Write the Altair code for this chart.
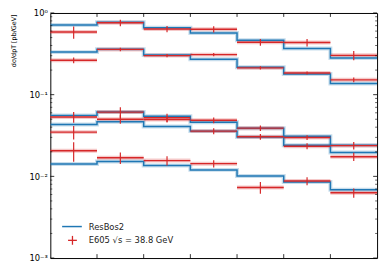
import altair as alt
import pandas as pd

# bin edges (pT, GeV) - 7 bins, no tick labels shown
edges = [0.0, 0.2, 0.4, 0.6, 0.8, 1.0, 1.2, 1.4]

# ResBos2 theory (blue steps), 5 mass bins
th_A = [0.711, 0.773, 0.660, 0.569, 0.464, 0.368, 0.281]
th_B = [0.332, 0.361, 0.306, 0.271, 0.217, 0.179, 0.137]
th_C = [0.0558, 0.0612, 0.0543, 0.0460, 0.0389, 0.0309, 0.0240]
th_D = [0.0431, 0.0466, 0.0408, 0.0358, 0.0303, 0.0240, 0.0196]
th_E = [0.0142, 0.0152, 0.0136, 0.0120, 0.0101, 0.00854, 0.00684]

# E605 data (red) and symmetric errors
dat_A = [0.585, 0.758, 0.636, 0.633, 0.439, 0.435, 0.303]
err_A = [0.10, 0.07, 0.055, 0.055, 0.042, 0.046, 0.040]
dat_B = [0.264, 0.358, 0.301, 0.309, 0.213, 0.184, 0.152]
err_B = [0.022, 0.018, 0.014, 0.014, 0.010, 0.008, 0.010]
dat_C = [0.0533, 0.0612, 0.0524, 0.0486, 0.0389, 0.0299, 0.0238]
err_C = [0.008, 0.009, 0.006, 0.004, 0.003, 0.002, 0.0025]
dat_D = [0.0348, 0.0500, 0.0496, 0.0358, 0.0305, 0.0234, 0.0174]
err_D = [0.0065, 0.006, 0.004, 0.003, 0.0025, 0.002, 0.002]
dat_E = [0.0206, 0.0169, 0.0156, 0.0143, 0.00731, 0.00878, 0.00629]
err_E = [0.0055, 0.0027, 0.002, 0.0015, 0.0012, 0.001, 0.0008]

legend_labels = ["ResBos2", "E605 √s = 38.8 GeV"]

y_major = [1e-3, 1e-2, 1e-1, 1.0]
y_minor = [k * 10.0 ** e for e in (-3, -2, -1) for k in range(2, 10)]
x_ticks = edges[1:-1]

BLUE = "#1f77b4"
RED = "#d62728"
W, H = 332, 249

theory = {"A": th_A, "B": th_B, "C": th_C, "D": th_D, "E": th_E}
data = {"A": (dat_A, err_A), "B": (dat_B, err_B), "C": (dat_C, err_C),
        "D": (dat_D, err_D), "E": (dat_E, err_E)}

step_rows = []
for s, vals in theory.items():
    for i, v in enumerate(vals):
        step_rows.append({"s": s, "x": edges[i], "y": v})
    step_rows.append({"s": s, "x": edges[-1], "y": vals[-1]})
step_df = pd.DataFrame(step_rows)

pt_rows = []
for s, (vals, errs) in data.items():
    for i, (v, e) in enumerate(zip(vals, errs)):
        pt_rows.append({"s": s, "lo": edges[i], "hi": edges[i + 1],
                        "c": (edges[i] + edges[i + 1]) / 2, "y": v,
                        "ylo": v - e, "yhi": v + e})
pt_df = pd.DataFrame(pt_rows)

xscale = alt.Scale(domain=[edges[0], edges[-1]], nice=False)
yscale = alt.Scale(type="log", domain=[1e-3, 1], nice=False, clamp=True)
label_expr = ("datum.value >= 0.99 ? '10⁰' : datum.value >= 0.099 ? '10⁻¹' : "
              "datum.value >= 0.0099 ? '10⁻²' : '10⁻³'")
yaxis = alt.Axis(values=y_major, labelExpr=label_expr, ticks=False, domain=False,
                 grid=False, labelFontSize=8.5, labelPadding=3, labelColor="black",
                 labelFont="DejaVu Sans",
                 title="dσ/dpT [pb/GeV]", titleFontSize=6.5, titleFontWeight="normal",
                 titleFont="DejaVu Sans", titleAngle=270, titleAlign="right",
                 titleBaseline="middle", titleX=-37, titleY=1, titleColor="black")


def X(field):
    return alt.X(field, type="quantitative", scale=xscale, axis=None)


def Y(field):
    return alt.Y(field, type="quantitative", scale=yscale, axis=yaxis)


steps = alt.Chart(step_df)
halo_b = steps.mark_line(interpolate="step-after", color=BLUE, strokeWidth=4,
                         opacity=0.25, clip=True).encode(x=X("x"), y=Y("y"), detail="s:N")
line_b = steps.mark_line(interpolate="step-after", color=BLUE, strokeWidth=1.5,
                         clip=True).encode(x=X("x"), y=Y("y"), detail="s:N")

pts = alt.Chart(pt_df)
halo_r = pts.mark_rule(color=RED, strokeWidth=4, opacity=0.25).encode(
    x=X("lo"), x2="hi", y=Y("y"))
hbar_r = pts.mark_rule(color=RED, strokeWidth=1.4).encode(
    x=X("lo"), x2="hi", y=Y("y"))
vbar_r = pts.mark_rule(color=RED, strokeWidth=1.2).encode(
    x=X("c"), y=Y("ylo"), y2="yhi")

ymaj = alt.Chart(pd.DataFrame({"v": y_major}))
ymin = alt.Chart(pd.DataFrame({"v": y_minor}))
xt = alt.Chart(pd.DataFrame({"v": x_ticks}))
tick_layers = [
    ymaj.mark_rule(color="black", strokeWidth=0.8).encode(y=Y("v"), x=alt.value(0), x2=alt.value(4)),
    ymaj.mark_rule(color="black", strokeWidth=0.8).encode(y=Y("v"), x=alt.value(W - 4), x2=alt.value(W)),
    ymin.mark_rule(color="black", strokeWidth=0.6).encode(y=Y("v"), x=alt.value(0), x2=alt.value(2)),
    ymin.mark_rule(color="black", strokeWidth=0.6).encode(y=Y("v"), x=alt.value(W - 2), x2=alt.value(W)),
    xt.mark_rule(color="black", strokeWidth=0.8).encode(x=X("v"), y=alt.value(0), y2=alt.value(4)),
    xt.mark_rule(color="black", strokeWidth=0.8).encode(x=X("v"), y=alt.value(H - 4), y2=alt.value(H)),
]

# legend (manual, lower left inside the frame)
one = pd.DataFrame({"a": [0]})
leg_t1 = alt.Chart(one).mark_text(align="left", baseline="middle", fontSize=8.5,
                                  font="DejaVu Sans", color="#222").encode(
    text=alt.value(legend_labels[0]), x=alt.value(39), y=alt.value(217))
leg_t2 = alt.Chart(one).mark_text(align="left", baseline="middle", fontSize=8.5,
                                  font="DejaVu Sans", color="#222").encode(
    text=alt.value(legend_labels[1]), x=alt.value(39), y=alt.value(231))
leg_line = alt.Chart(one).mark_rule(color=BLUE, strokeWidth=1.5).encode(
    x=alt.value(12), x2=alt.value(32), y=alt.value(217))
leg_ph = alt.Chart(one).mark_rule(color=RED, strokeWidth=1.3).encode(
    x=alt.value(18), x2=alt.value(27), y=alt.value(231))
leg_pv = alt.Chart(one).mark_rule(color=RED, strokeWidth=1.3).encode(
    x=alt.value(22.5), y=alt.value(226.5), y2=alt.value(235.5))

chart = alt.layer(
    halo_b, halo_r, line_b, hbar_r, vbar_r, *tick_layers,
    leg_line, leg_ph, leg_pv, leg_t1, leg_t2
).properties(
    width=W, height=H,
    autosize=alt.AutoSizeParams(type="none"),
    padding={"left": 43, "top": 3, "right": 5, "bottom": 5},
    background="white",
).configure_view(stroke="black", strokeWidth=1)

chart.save("out.html", embed_options={"renderer": "svg", "actions": False})
